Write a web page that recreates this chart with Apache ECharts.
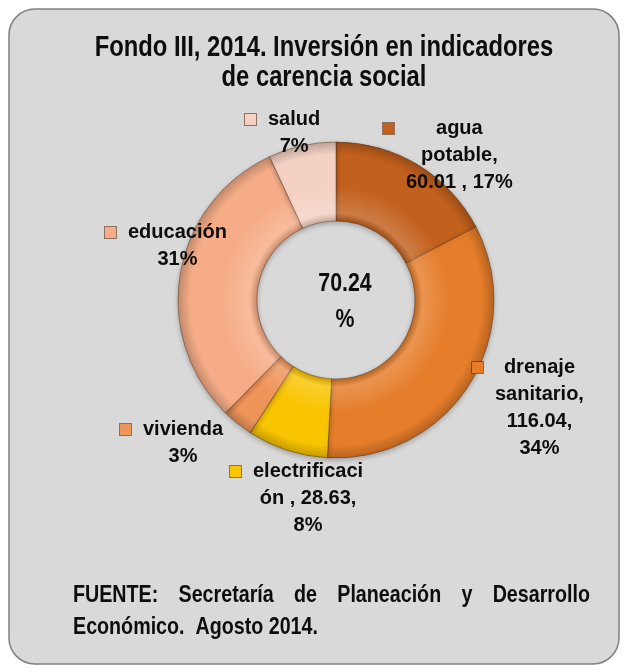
<!DOCTYPE html>
<html>
<head>
<meta charset="utf-8">
<title>Fondo III, 2014</title>
<script src="https://cdn.jsdelivr.net/npm/echarts@6/dist/echarts.min.js"></script>
<style>
  html, body { margin: 0; padding: 0; background: #fff; }
  #chart { width: 627px; height: 672px; }
</style>
</head>
<body>
<div id="chart"></div>
<script>
// datos: inversión por indicador de carencia social
var categorias = ['agua potable', 'drenaje sanitario', 'electrificación', 'vivienda', 'educación', 'salud'];
var montos = [60.01, 116.04, 28.63, 11.0, 106.5, 23.9];
var colores = ['#c2601d', '#e57d2a', '#f9c400', '#ef955a', '#f6ad87', '#f4d1c3'];
var titulo = 'Fondo III, 2014. Inversión en indicadores\nde carencia social';
var textoCentro = ['70.24', '%'];
var fuente = ['FUENTE: Secretaría de Planeación y Desarrollo', 'Económico.  Agosto 2014.'];

// posición (esquina sup. izq. del marcador) de cada etiqueta
var posEtiquetas = [[383, 115], [472, 354], [230, 458], [120, 416], [105, 219], [245, 106]];

var FAMILIA = "'Liberation Sans', Arial, sans-serif";
var ANGOSTO = 0.82; // simula Arial Narrow

// texto de cada etiqueta, cortado en renglones como en el original
function renglones(i, p) {
  var v = montos[i].toFixed(2);
  var pct = Math.round(p.percent) + '%';
  switch (i) {
    case 0: return ['agua', 'potable,', v + ' , ' + pct];
    case 1: return ['drenaje', 'sanitario,', v + ',', pct];
    case 2: return ['electrificaci', 'ón , ' + v + ',', pct];
    default: return [categorias[i], pct];
  }
}

var rich = {
  g: { width: 12, height: 11, lineHeight: 27 },
  s: { width: 23, height: 11, lineHeight: 27 },
  t: { align: 'center', fontSize: 20, fontWeight: 'bold', fontFamily: FAMILIA, color: '#0d0d0d', lineHeight: 27 }
};
colores.forEach(function (c, i) {
  rich['m' + i] = { width: 11, height: 11, lineHeight: 27, backgroundColor: c, borderColor: 'rgba(90,40,10,0.6)', borderWidth: 1 };
});

function texto(x, y, t, size, align, extra) {
  var st = { x: 0, y: 0, text: t, fontSize: size, fontWeight: 'bold', fontFamily: FAMILIA, fill: '#0d0d0d', align: align, verticalAlign: 'middle' };
  for (var k in extra) st[k] = extra[k];
  return { type: 'text', x: x, y: y, scaleX: ANGOSTO, style: st };
}

// texto justificado del pie de página
function justificar(t, x0, x1, y, size) {
  var ctx = document.createElement('canvas').getContext('2d');
  ctx.font = 'bold ' + size + 'px ' + FAMILIA;
  var palabras = t.split(' ');
  var anchos = palabras.map(function (w) { return ctx.measureText(w).width * ANGOSTO; });
  var total = anchos.reduce(function (a, b) { return a + b; }, 0);
  var hueco = (x1 - x0 - total) / (palabras.length - 1);
  var x = x0, out = [];
  palabras.forEach(function (w, i) {
    out.push(texto(x, y, w, size, 'left'));
    x += anchos[i] + hueco;
  });
  return out;
}

var datos = categorias.map(function (c, i) {
  return { name: c, value: montos[i], itemStyle: { color: colores[i] } };
});

var chart = echarts.init(document.getElementById('chart'));

var graficos = [
  {
    type: 'rect', z: -10,
    shape: { x: 9, y: 9, width: 610, height: 655, r: 26 },
    style: { fill: '#d9d9d9', stroke: '#808080', lineWidth: 1.5 }
  },
  texto(324, 33, titulo, 29, 'center', { verticalAlign: 'top', lineHeight: 30 }),
  texto(345, 284, textoCentro[0], 26, 'center'),
  texto(345, 320, textoCentro[1], 26, 'center'),
  texto(73, 627, fuente[1], 24, 'left')
].concat(justificar(fuente[0], 73, 590, 595, 24));

chart.setOption({
  animation: false,
  graphic: graficos,
  series: [
    {
      type: 'pie',
      center: [336, 300],
      radius: [79, 158],
      startAngle: 90,
      avoidLabelOverlap: false,
      data: datos,
      itemStyle: {
        borderColor: 'rgba(80,50,30,0.45)',
        borderWidth: 1,
        shadowBlur: 5,
        shadowOffsetY: 2,
        shadowColor: 'rgba(0,0,0,0.25)'
      },
      emphasis: { disabled: true },
      labelLine: { show: false },
      label: {
        show: true,
        position: 'inside',
        rich: rich,
        formatter: function (p) {
          var r = renglones(p.dataIndex, p);
          return r.map(function (txt, k) {
            return (k === 0 ? '{m' + p.dataIndex + '|}{g|}' : '{s|}') + '{t|' + txt + '}';
          }).join('\n');
        }
      },
      labelLayout: function (p) {
        var pos = posEtiquetas[p.dataIndex];
        return { x: pos[0], y: pos[1], align: 'left', verticalAlign: 'top' };
      }
    },
    {
      // brillo / relieve de los sectores
      type: 'pie',
      silent: true,
      center: [336, 300],
      radius: [79, 158],
      startAngle: 90,
      data: montos,
      label: { show: false },
      labelLine: { show: false },
      itemStyle: {
        color: {
          type: 'radial', x: 336, y: 300, r: 158, global: true,
          colorStops: [
            { offset: 0.5, color: 'rgba(0,0,0,0.18)' },
            { offset: 0.55, color: 'rgba(255,255,255,0.18)' },
            { offset: 0.72, color: 'rgba(255,255,255,0)' },
            { offset: 0.92, color: 'rgba(0,0,0,0)' },
            { offset: 1, color: 'rgba(0,0,0,0.2)' }
          ]
        }
      }
    }
  ]
});
</script>
</body>
</html>
